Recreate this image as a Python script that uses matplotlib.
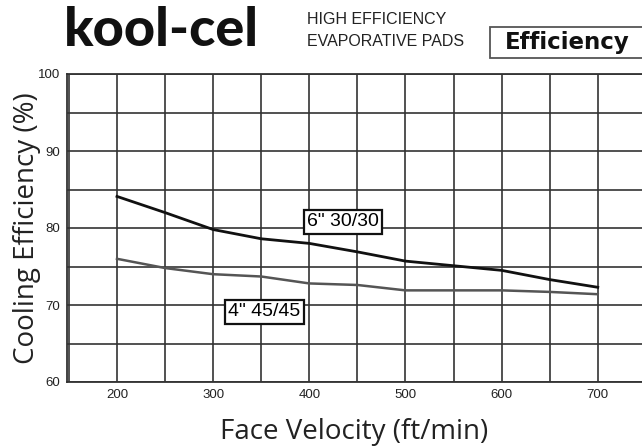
import matplotlib
matplotlib.use("Agg")
import matplotlib.pyplot as plt
from matplotlib.ticker import MultipleLocator, FixedLocator
from matplotlib.patches import Rectangle

velocity = [200, 250, 300, 350, 400, 450, 500, 550, 600, 650, 700]
eff_6in = [84.1, 82.0, 79.8, 78.6, 78.0, 76.9, 75.7, 75.1, 74.5, 73.3, 72.3]
eff_4in = [76.0, 74.8, 74.0, 73.7, 72.8, 72.6, 71.9, 71.9, 71.9, 71.7, 71.4]
label_6in = '6" 30/30'
label_4in = '4" 45/45'
xticks = [200, 300, 400, 500, 600, 700]
yticks = [60, 70, 80, 90, 100]

fig = plt.figure(figsize=(6.42, 4.46), dpi=100)
ax = fig.add_axes([67/642, 1-382/446, 1-67/642, (382-74)/446])

ax.set_xlim(148, 746)
ax.set_ylim(60, 100)
ax.xaxis.set_major_locator(FixedLocator(xticks))
ax.xaxis.set_minor_locator(MultipleLocator(50))
ax.yaxis.set_major_locator(FixedLocator(yticks))
ax.yaxis.set_minor_locator(MultipleLocator(5))
ax.grid(which='both', color='#333333', lw=1.2)
ax.set_axisbelow(True)
ax.tick_params(which='both', length=0, labelsize=9.5, pad=5, colors='#222222')
for lab in ax.get_xticklabels() + ax.get_yticklabels():
    lab.set_family('Liberation Sans')
for s in ['left', 'bottom', 'top']:
    ax.spines[s].set_color('#333333')
    ax.spines[s].set_linewidth(1.3)
ax.spines['right'].set_visible(False)

ax.plot(velocity, eff_6in, color='#111111', lw=2.0, zorder=3)
ax.plot(velocity, eff_4in, color='#555555', lw=1.8, zorder=3)

box = dict(boxstyle='square,pad=0.17', fc='white', ec='#111111', lw=1.6)
ax.text(435, 80.8, label_6in, ha='center', va='center', fontsize=14,
        family='Liberation Sans', bbox=box, zorder=4)
ax.text(353, 69.1, label_4in, ha='center', va='center', fontsize=14,
        family='Liberation Sans', bbox=box, zorder=4)

ax.set_ylabel('Cooling Efficiency (%)', fontsize=20, family='Open Sans',
              color='#222222', labelpad=-2)
ax.set_xlabel('Face Velocity (ft/min)', fontsize=20, family='Open Sans',
              color='#222222', labelpad=12)

# header
fig.text(161/642, 1-30/446, 'kool-cel', ha='center', va='center', fontsize=39,
         family='Lato', fontweight=900, color='#111111')
fig.text(307/642, 1-20/446, 'HIGH EFFICIENCY', ha='left', va='center',
         fontsize=11.5, family='Liberation Sans', color='#222222')
fig.text(307/642, 1-42/446, 'EVAPORATIVE PADS', ha='left', va='center',
         fontsize=11.5, family='Liberation Sans', color='#222222')
fig.add_artist(Rectangle((490/642, 1-58/446), 160/642, 31/446,
                         transform=fig.transFigure, fc='white', ec='#555555',
                         lw=1.3))
fig.text(567/642, 1-42/446, 'Efficiency', ha='center', va='center',
         fontsize=16.5, family='DejaVu Sans', fontweight='bold', color='#111111')

fig.savefig('out.png', dpi=100)
